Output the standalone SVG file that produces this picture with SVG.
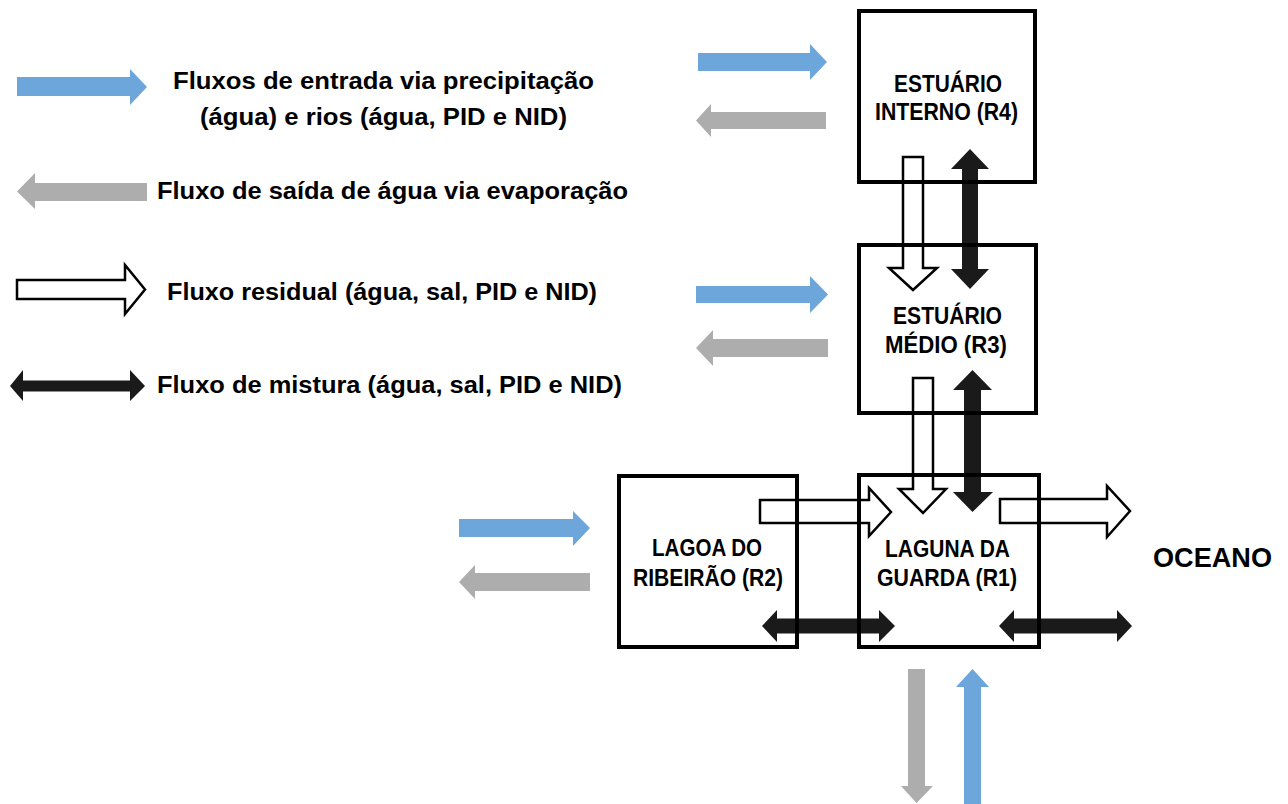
<svg xmlns="http://www.w3.org/2000/svg" width="1288" height="804" viewBox="0 0 1288 804">
<style>
.t{font-family:"Liberation Sans",Arial,sans-serif;font-weight:bold;font-size:23.5px;fill:#000}
.bl{font-family:"Liberation Sans",Arial,sans-serif;font-weight:bold;font-size:24px;fill:#000;text-anchor:middle}
.oc{font-family:"Liberation Sans",Arial,sans-serif;font-weight:bold;font-size:28px;fill:#000;text-anchor:middle}
.box{fill:none;stroke:#000;stroke-width:4}
.blue{fill:#6CA6DA}
.gray{fill:#ADADAD}
.hollow{fill:#fff;stroke:#000;stroke-width:2.5;stroke-linejoin:miter}
.mix{fill:#1a1a1a}
</style>
<rect width="1288" height="804" fill="#fff"/>
<g id="legend">
<polygon class="blue" points="17,77 130,77 130,69 147,87 130,105 130,96 17,96"/>
<text class="t" x="173" y="89" textLength="421" lengthAdjust="spacingAndGlyphs">Fluxos de entrada via precipitação</text>
<text class="t" x="200" y="125" textLength="367" lengthAdjust="spacingAndGlyphs">(água) e rios (água, PID e NID)</text>
<polygon class="gray" points="147,183 35,183 35,173 17,191.5 35,209 35,201 147,201"/>
<text class="t" x="157" y="199" textLength="471" lengthAdjust="spacingAndGlyphs">Fluxo de saída de água via evaporação</text>
<polygon class="hollow" points="17,280 125,280 125,265 145,289.5 125,314 125,299 17,299"/>
<text class="t" x="167" y="300" textLength="430" lengthAdjust="spacingAndGlyphs">Fluxo residual (água, sal, PID e NID)</text>
<polygon class="mix" points="10,386 23,370 23,380.5 130,380.5 130,370 145,386 130,401 130,391.5 23,391.5 23,401"/>
<text class="t" x="157" y="393" textLength="465" lengthAdjust="spacingAndGlyphs">Fluxo de mistura (água, sal, PID e NID)</text>
</g>
<g id="connectors">
<polygon class="blue" points="698,53 810,53 810,44 827,62 810,80 810,71 698,71"/>
<polygon class="gray" points="826,112 711,112 711,104 696,120.5 711,137 711,129 826,129"/>
<polygon class="blue" points="696,286 810,286 810,276 828,294.5 810,313 810,303 696,303"/>
<polygon class="gray" points="828,339 713,339 713,330 696,348 713,366 713,357 828,357"/>
<polygon class="blue" points="459,519 573,519 573,511 590,528 573,546 573,537 459,537"/>
<polygon class="gray" points="590,573 475,573 475,565 459,582 475,599 475,591 590,591"/>
<polygon class="hollow" points="903,157 923,157 923,268 937,268 913,290 889,268 903,268"/>
<polygon class="hollow" points="913,378 933,378 933,489 946,489 923,513 899,489 913,489"/>
<polygon class="hollow" points="760,500 869,500 869,488 891,512 869,536 869,523 760,523"/>
<polygon class="hollow" points="1000,499 1107,499 1107,486 1130,511 1107,537 1107,523 1000,523"/>
<polygon class="mix" points="970,149 989,169 978,169 978,269 989,269 970,289 951,269 962,269 962,169 951,169"/>
<polygon class="mix" points="972.5,370 992,390 981,390 981,492 993,492 972.5,512 953,492 964,492 964,390 953,390"/>
<polygon class="mix" points="762,626 777,610 777,618.5 879,618.5 879,610 895,626 879,642 879,633.5 777,633.5 777,642"/>
<polygon class="mix" points="999,626 1014,610 1014,618.5 1117,618.5 1117,610 1132,626 1117,642 1117,633.5 1014,633.5 1014,642"/>
<polygon class="gray" points="908,669 925,669 925,786 933,786 916.5,803 901,786 908,786"/>
<polygon class="blue" points="964,804 981,804 981,687 989,687 972.5,669 956,687 964,687"/>
</g>
<g id="r4">
<rect class="box" x="859" y="11" width="176" height="171"/>
<text class="bl" x="948" y="92" textLength="108" lengthAdjust="spacingAndGlyphs">ESTUÁRIO</text>
<text class="bl" x="946.5" y="120" textLength="143" lengthAdjust="spacingAndGlyphs">INTERNO (R4)</text>
</g>
<g id="r3">
<rect class="box" x="859" y="245" width="177" height="168"/>
<text class="bl" x="947.5" y="324" textLength="109" lengthAdjust="spacingAndGlyphs">ESTUÁRIO</text>
<text class="bl" x="946" y="353" textLength="122" lengthAdjust="spacingAndGlyphs">MÉDIO (R3)</text>
</g>
<g id="r2">
<rect class="box" x="619" y="476" width="178" height="171"/>
<text class="bl" x="707" y="556" textLength="110" lengthAdjust="spacingAndGlyphs">LAGOA DO</text>
<text class="bl" x="708" y="586" textLength="150" lengthAdjust="spacingAndGlyphs">RIBEIRÃO (R2)</text>
</g>
<g id="r1">
<rect class="box" x="859" y="475" width="180" height="172"/>
<text class="bl" x="947.5" y="557" textLength="125" lengthAdjust="spacingAndGlyphs">LAGUNA DA</text>
<text class="bl" x="947" y="586" textLength="140" lengthAdjust="spacingAndGlyphs">GUARDA (R1)</text>
</g>
<g id="oceano">
<text class="oc" x="1212.5" y="567" textLength="119" lengthAdjust="spacingAndGlyphs">OCEANO</text>
</g>
</svg>
